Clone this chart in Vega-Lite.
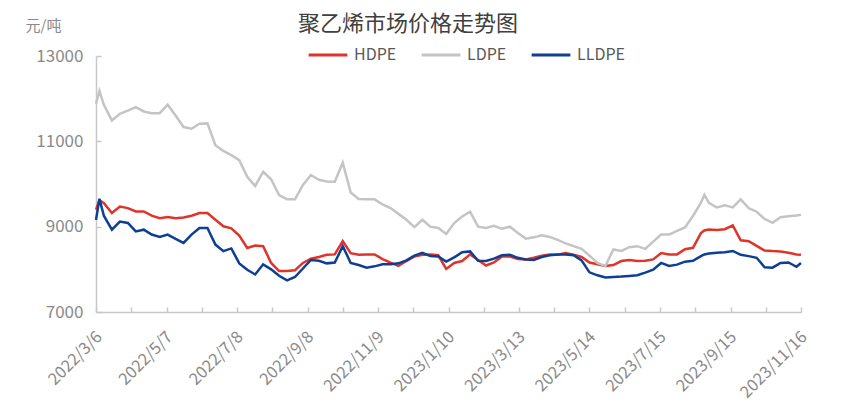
{
  "$schema": "https://vega.github.io/schema/vega-lite/v6.json",
  "width": 705,
  "height": 256,
  "autosize": {"type": "none"},
  "padding": {"left": 96, "top": 56, "right": 64, "bottom": 103},
  "background": "white",
  "config": {
    "view": {"stroke": null},
    "font": "Noto Sans CJK SC",
    "axis": {"grid": false, "domainColor": "#c8c8c8", "tickColor": "#c8c8c8", "domainWidth": 1.5, "tickWidth": 1.5, "labelColor": "#8a8a8a", "labelFont": "Noto Sans CJK SC"}
  },
  "title": {
    "text": "聚乙烯市场价格走势图",
    "anchor": "start",
    "frame": "group",
    "dx": 202,
    "dy": 28,
    "fontSize": 22,
    "fontWeight": "normal",
    "color": "#404040",
    "font": "Noto Sans CJK SC",
    "offset": 10
  },
  "data": {
    "values": [
      {"date": "2022-03-06", "HDPE": 9400, "LDPE": 11880, "LLDPE": 9160},
      {"date": "2022-03-09", "HDPE": 9620, "LDPE": 12180, "LLDPE": 9650},
      {"date": "2022-03-13", "HDPE": 9550, "LDPE": 11850, "LLDPE": 9250},
      {"date": "2022-03-20", "HDPE": 9320, "LDPE": 11490, "LLDPE": 8930},
      {"date": "2022-03-27", "HDPE": 9470, "LDPE": 11645, "LLDPE": 9120},
      {"date": "2022-04-03", "HDPE": 9435, "LDPE": 11720, "LLDPE": 9086},
      {"date": "2022-04-10", "HDPE": 9357, "LDPE": 11800, "LLDPE": 8890},
      {"date": "2022-04-17", "HDPE": 9357, "LDPE": 11700, "LLDPE": 8930},
      {"date": "2022-04-24", "HDPE": 9260, "LDPE": 11660, "LLDPE": 8815},
      {"date": "2022-05-01", "HDPE": 9200, "LDPE": 11660, "LLDPE": 8760},
      {"date": "2022-05-08", "HDPE": 9225, "LDPE": 11860, "LLDPE": 8815},
      {"date": "2022-05-15", "HDPE": 9200, "LDPE": 11605, "LLDPE": 8714},
      {"date": "2022-05-22", "HDPE": 9215, "LDPE": 11334, "LLDPE": 8620},
      {"date": "2022-05-29", "HDPE": 9255, "LDPE": 11296, "LLDPE": 8815},
      {"date": "2022-06-05", "HDPE": 9320, "LDPE": 11412, "LLDPE": 8970},
      {"date": "2022-06-12", "HDPE": 9320, "LDPE": 11420, "LLDPE": 8970},
      {"date": "2022-06-19", "HDPE": 9163, "LDPE": 10908, "LLDPE": 8580},
      {"date": "2022-06-26", "HDPE": 9008, "LDPE": 10775, "LLDPE": 8427},
      {"date": "2022-07-03", "HDPE": 8960, "LDPE": 10675, "LLDPE": 8490},
      {"date": "2022-07-10", "HDPE": 8790, "LDPE": 10560, "LLDPE": 8140},
      {"date": "2022-07-17", "HDPE": 8500, "LDPE": 10170, "LLDPE": 7990},
      {"date": "2022-07-24", "HDPE": 8560, "LDPE": 9954, "LLDPE": 7880},
      {"date": "2022-07-31", "HDPE": 8543, "LDPE": 10287, "LLDPE": 8117},
      {"date": "2022-08-07", "HDPE": 8150, "LDPE": 10110, "LLDPE": 8000},
      {"date": "2022-08-14", "HDPE": 7960, "LDPE": 9740, "LLDPE": 7850},
      {"date": "2022-08-21", "HDPE": 7960, "LDPE": 9640, "LLDPE": 7740},
      {"date": "2022-08-28", "HDPE": 7980, "LDPE": 9640, "LLDPE": 7820},
      {"date": "2022-09-04", "HDPE": 8150, "LDPE": 9980, "LLDPE": 8020},
      {"date": "2022-09-11", "HDPE": 8250, "LDPE": 10210, "LLDPE": 8220},
      {"date": "2022-09-18", "HDPE": 8290, "LDPE": 10100, "LLDPE": 8200},
      {"date": "2022-09-25", "HDPE": 8340, "LDPE": 10060, "LLDPE": 8140},
      {"date": "2022-10-02", "HDPE": 8350, "LDPE": 10054, "LLDPE": 8160},
      {"date": "2022-10-09", "HDPE": 8660, "LDPE": 10500, "LLDPE": 8543},
      {"date": "2022-10-16", "HDPE": 8380, "LDPE": 9800, "LLDPE": 8150},
      {"date": "2022-10-23", "HDPE": 8340, "LDPE": 9650, "LLDPE": 8100},
      {"date": "2022-10-30", "HDPE": 8350, "LDPE": 9640, "LLDPE": 8039},
      {"date": "2022-11-06", "HDPE": 8350, "LDPE": 9640, "LLDPE": 8070},
      {"date": "2022-11-13", "HDPE": 8240, "LDPE": 9520, "LLDPE": 8117},
      {"date": "2022-11-20", "HDPE": 8155, "LDPE": 9435, "LLDPE": 8117},
      {"date": "2022-11-27", "HDPE": 8080, "LDPE": 9300, "LLDPE": 8140},
      {"date": "2022-12-04", "HDPE": 8194, "LDPE": 9163, "LLDPE": 8210},
      {"date": "2022-12-11", "HDPE": 8300, "LDPE": 8990, "LLDPE": 8320},
      {"date": "2022-12-18", "HDPE": 8340, "LDPE": 9163, "LLDPE": 8388},
      {"date": "2022-12-25", "HDPE": 8350, "LDPE": 9000, "LLDPE": 8310},
      {"date": "2023-01-01", "HDPE": 8330, "LDPE": 8970, "LLDPE": 8300},
      {"date": "2023-01-08", "HDPE": 8010, "LDPE": 8830, "LLDPE": 8180},
      {"date": "2023-01-15", "HDPE": 8150, "LDPE": 9086, "LLDPE": 8280},
      {"date": "2023-01-22", "HDPE": 8194, "LDPE": 9240, "LLDPE": 8400},
      {"date": "2023-01-29", "HDPE": 8350, "LDPE": 9350, "LLDPE": 8420},
      {"date": "2023-02-05", "HDPE": 8220, "LDPE": 9000, "LLDPE": 8200},
      {"date": "2023-02-12", "HDPE": 8090, "LDPE": 8970, "LLDPE": 8194},
      {"date": "2023-02-19", "HDPE": 8160, "LDPE": 9020, "LLDPE": 8250},
      {"date": "2023-02-26", "HDPE": 8300, "LDPE": 8950, "LLDPE": 8330},
      {"date": "2023-03-05", "HDPE": 8300, "LDPE": 9000, "LLDPE": 8340},
      {"date": "2023-03-12", "HDPE": 8240, "LDPE": 8850, "LLDPE": 8270},
      {"date": "2023-03-19", "HDPE": 8230, "LDPE": 8720, "LLDPE": 8233},
      {"date": "2023-03-26", "HDPE": 8270, "LDPE": 8750, "LLDPE": 8220},
      {"date": "2023-04-02", "HDPE": 8320, "LDPE": 8800, "LLDPE": 8290},
      {"date": "2023-04-09", "HDPE": 8350, "LDPE": 8760, "LLDPE": 8330},
      {"date": "2023-04-16", "HDPE": 8340, "LDPE": 8690, "LLDPE": 8350},
      {"date": "2023-04-23", "HDPE": 8380, "LDPE": 8610, "LLDPE": 8350},
      {"date": "2023-04-30", "HDPE": 8340, "LDPE": 8543, "LLDPE": 8330},
      {"date": "2023-05-07", "HDPE": 8290, "LDPE": 8480, "LLDPE": 8210},
      {"date": "2023-05-14", "HDPE": 8160, "LDPE": 8320, "LLDPE": 7930},
      {"date": "2023-05-21", "HDPE": 8117, "LDPE": 8150, "LLDPE": 7860},
      {"date": "2023-05-28", "HDPE": 8080, "LDPE": 8078, "LLDPE": 7810},
      {"date": "2023-06-04", "HDPE": 8100, "LDPE": 8466, "LLDPE": 7820},
      {"date": "2023-06-11", "HDPE": 8194, "LDPE": 8430, "LLDPE": 7830},
      {"date": "2023-06-18", "HDPE": 8220, "LDPE": 8520, "LLDPE": 7845},
      {"date": "2023-06-25", "HDPE": 8194, "LDPE": 8543, "LLDPE": 7860},
      {"date": "2023-07-02", "HDPE": 8200, "LDPE": 8480, "LLDPE": 7922},
      {"date": "2023-07-09", "HDPE": 8233, "LDPE": 8650, "LLDPE": 7990},
      {"date": "2023-07-16", "HDPE": 8380, "LDPE": 8815, "LLDPE": 8150},
      {"date": "2023-07-23", "HDPE": 8350, "LDPE": 8815, "LLDPE": 8078},
      {"date": "2023-07-30", "HDPE": 8350, "LDPE": 8900, "LLDPE": 8110},
      {"date": "2023-08-06", "HDPE": 8470, "LDPE": 8980, "LLDPE": 8180},
      {"date": "2023-08-13", "HDPE": 8505, "LDPE": 9250, "LLDPE": 8200},
      {"date": "2023-08-20", "HDPE": 8850, "LDPE": 9560, "LLDPE": 8310},
      {"date": "2023-08-23", "HDPE": 8910, "LDPE": 9745, "LLDPE": 8350},
      {"date": "2023-08-27", "HDPE": 8931, "LDPE": 9560, "LLDPE": 8370},
      {"date": "2023-09-03", "HDPE": 8920, "LDPE": 9450, "LLDPE": 8388},
      {"date": "2023-09-10", "HDPE": 8940, "LDPE": 9500, "LLDPE": 8400},
      {"date": "2023-09-17", "HDPE": 9030, "LDPE": 9450, "LLDPE": 8430},
      {"date": "2023-09-24", "HDPE": 8680, "LDPE": 9640, "LLDPE": 8340},
      {"date": "2023-10-01", "HDPE": 8660, "LDPE": 9435, "LLDPE": 8310},
      {"date": "2023-10-08", "HDPE": 8550, "LDPE": 9350, "LLDPE": 8270},
      {"date": "2023-10-15", "HDPE": 8440, "LDPE": 9180, "LLDPE": 8050},
      {"date": "2023-10-22", "HDPE": 8427, "LDPE": 9090, "LLDPE": 8039},
      {"date": "2023-10-29", "HDPE": 8420, "LDPE": 9220, "LLDPE": 8150},
      {"date": "2023-11-05", "HDPE": 8388, "LDPE": 9245, "LLDPE": 8160},
      {"date": "2023-11-12", "HDPE": 8350, "LDPE": 9260, "LLDPE": 8060},
      {"date": "2023-11-16", "HDPE": 8340, "LDPE": 9280, "LLDPE": 8150}
    ]
  },
  "transform": [{"fold": ["HDPE", "LDPE", "LLDPE"], "as": ["series", "price"]}],
  "mark": {"type": "line", "strokeWidth": 2.5},
  "encoding": {
    "x": {
      "field": "date",
      "type": "temporal",
      "scale": {
        "type": "utc",
        "domain": [{"year": 2022, "month": 3, "date": 6, "utc": true}, {"year": 2023, "month": 11, "date": 16, "utc": true}],
        "nice": false
      },
      "axis": {
        "title": null,
        "values": [
          {"year": 2022, "month": 3, "date": 6, "utc": true},
          {"year": 2022, "month": 4, "date": 6, "utc": true},
          {"year": 2022, "month": 5, "date": 7, "utc": true},
          {"year": 2022, "month": 6, "date": 7, "utc": true},
          {"year": 2022, "month": 7, "date": 8, "utc": true},
          {"year": 2022, "month": 8, "date": 8, "utc": true},
          {"year": 2022, "month": 9, "date": 8, "utc": true},
          {"year": 2022, "month": 10, "date": 9, "utc": true},
          {"year": 2022, "month": 11, "date": 9, "utc": true},
          {"year": 2022, "month": 12, "date": 10, "utc": true},
          {"year": 2023, "month": 1, "date": 10, "utc": true},
          {"year": 2023, "month": 2, "date": 10, "utc": true},
          {"year": 2023, "month": 3, "date": 13, "utc": true},
          {"year": 2023, "month": 4, "date": 13, "utc": true},
          {"year": 2023, "month": 5, "date": 14, "utc": true},
          {"year": 2023, "month": 6, "date": 14, "utc": true},
          {"year": 2023, "month": 7, "date": 15, "utc": true},
          {"year": 2023, "month": 8, "date": 15, "utc": true},
          {"year": 2023, "month": 9, "date": 15, "utc": true},
          {"year": 2023, "month": 10, "date": 16, "utc": true},
          {"year": 2023, "month": 11, "date": 16, "utc": true}
        ],
        "labelExpr": "indexof(['2022/3/6','2022/5/7','2022/7/8','2022/9/8','2022/11/9','2023/1/10','2023/3/13','2023/5/14','2023/7/15','2023/9/15','2023/11/16'], utcFormat(datum.value, '%Y/%-m/%-d')) >= 0 ? utcFormat(datum.value, '%Y/%-m/%-d') : ''",
        "labelAngle": -45,
        "labelAlign": "right",
        "labelBaseline": "middle",
        "labelFontSize": 16.5,
        "labelPadding": 27,
        "labelOffset": 3,
        "labelOverlap": false,
        "labelFlush": false,
        "tickSize": -5
      }
    },
    "y": {
      "field": "price",
      "type": "quantitative",
      "scale": {"domain": [7000, 13000], "nice": false, "zero": false},
      "axis": {
        "values": [7000, 9000, 11000, 13000],
        "format": "d",
        "labelFontSize": 17,
        "labelPadding": 18,
        "tickSize": -5,
        "title": "元/吨",
        "titleAngle": 0,
        "titleAlign": "left",
        "titleBaseline": "middle",
        "titleX": -71,
        "titleY": -31,
        "titleFontSize": 15,
        "titleFontWeight": "normal",
        "titleColor": "#8a8a8a",
        "titleFont": "Noto Sans CJK SC"
      }
    },
    "color": {
      "field": "series",
      "type": "nominal",
      "scale": {"domain": ["HDPE", "LDPE", "LLDPE"], "range": ["#e0342b", "#c4c4c4", "#0f3f93"]},
      "legend": {
        "title": null,
        "orient": "none",
        "direction": "horizontal",
        "legendX": 211,
        "legendY": -22,
        "padding": 0,
        "symbolType": "stroke",
        "symbolSize": 1500,
        "symbolStrokeWidth": 3,
        "labelFontSize": 16,
        "labelColor": "#595959",
        "labelFont": "Noto Sans CJK SC",
        "labelOffset": 5,
        "columnPadding": 18
      }
    }
  }
}
